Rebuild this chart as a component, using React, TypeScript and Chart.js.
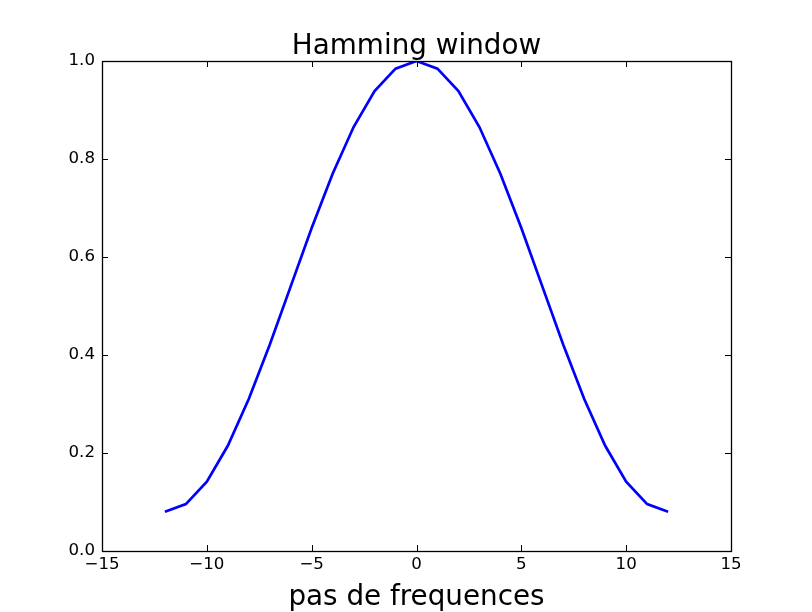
import React, { useEffect, useRef } from "react";
import { Chart, registerables } from "chart.js";

Chart.register(...registerables);

const title = "Hamming window";
const xLabel = "pas de frequences";
const xSteps = [-12, -11, -10, -9, -8, -7, -6, -5, -4, -3, -2, -1, 0, 1, 2, 3, 4, 5, 6, 7, 8, 9, 10, 11, 12];
const windowValues = [
  0.08, 0.0957, 0.1416, 0.2147, 0.31, 0.4209, 0.54, 0.6591, 0.77, 0.8653, 0.9384, 0.9843, 1.0,
  0.9843, 0.9384, 0.8653, 0.77, 0.6591, 0.54, 0.4209, 0.31, 0.2147, 0.1416, 0.0957, 0.08,
];
const xRange = [-15, 15];
const yRange = [0, 1];

const FONT = "'DejaVu Sans', sans-serif";

const framePlugin = {
  id: "mplFrame",
  afterDraw(chart: any) {
    const { ctx, chartArea } = chart;
    const { left, right, top, bottom } = chartArea;
    const xs = chart.scales.x;
    const ys = chart.scales.y;
    ctx.save();
    ctx.strokeStyle = "#000";
    ctx.lineWidth = 1.3;
    ctx.strokeRect(Math.round(left) + 0.5, Math.round(top) + 0.5, Math.round(right - left), Math.round(bottom - top));
    ctx.lineWidth = 1;
    const tl = 6;
    ctx.beginPath();
    for (const t of xs.ticks) {
      const px = Math.round(xs.getPixelForValue(t.value)) + 0.5;
      ctx.moveTo(px, bottom);
      ctx.lineTo(px, bottom - tl);
      ctx.moveTo(px, top);
      ctx.lineTo(px, top + tl);
    }
    for (const t of ys.ticks) {
      const py = Math.round(ys.getPixelForValue(t.value)) + 0.5;
      ctx.moveTo(left, py);
      ctx.lineTo(left + tl, py);
      ctx.moveTo(right, py);
      ctx.lineTo(right - tl, py);
    }
    ctx.stroke();
    const cx = (left + right) / 2;
    ctx.fillStyle = "#000";
    ctx.textAlign = "center";
    ctx.textBaseline = "alphabetic";
    ctx.font = `27.8px ${FONT}`;
    ctx.fillText(title, cx, top - 7.5);
    ctx.fillText(xLabel, cx, bottom + 54);
    ctx.restore();
  },
};

export default function App() {
  const ref = useRef<HTMLCanvasElement>(null);
  useEffect(() => {
    document.body.style.margin = "0";
    const canvas = ref.current;
    if (!canvas) return;
    const chart = new Chart(canvas, {
      type: "line",
      data: {
        datasets: [
          {
            data: xSteps.map((x, i) => ({ x, y: windowValues[i] })),
            borderColor: "#0000ff",
            borderWidth: 2.7,
            pointRadius: 0,
            tension: 0,
            fill: false,
          },
        ],
      },
      options: {
        animation: false,
        responsive: false,
        devicePixelRatio: 1,
        layout: { padding: { left: 0, right: 81, top: 61, bottom: 0 } },
        plugins: { legend: { display: false }, tooltip: { enabled: false }, title: { display: false } },
        scales: {
          x: {
            type: "linear",
            min: xRange[0],
            max: xRange[1],
            grid: { display: false, drawTicks: false },
            border: { display: false },
            ticks: {
              stepSize: 5,
              color: "#000",
              font: { family: FONT, size: 16.67 },
              padding: 4,
              maxRotation: 0,
              callback: (v: any) => String(v).replace("-", "\u2212"),
            },
            afterFit: (s: any) => {
              s.height = 61;
            },
          },
          y: {
            type: "linear",
            min: yRange[0],
            max: yRange[1],
            grid: { display: false, drawTicks: false },
            border: { display: false },
            ticks: {
              stepSize: 0.2,
              color: "#000",
              font: { family: FONT, size: 16.67 },
              padding: 7,
              callback: (v: any) => Number(v).toFixed(1),
            },
            afterFit: (s: any) => {
              s.width = 102;
            },
          },
        },
      },
      plugins: [framePlugin],
    });
    return () => chart.destroy();
  }, []);
  return <canvas ref={ref} width={812} height={612} style={{ display: "block", width: 812, height: 612 }} />;
}
